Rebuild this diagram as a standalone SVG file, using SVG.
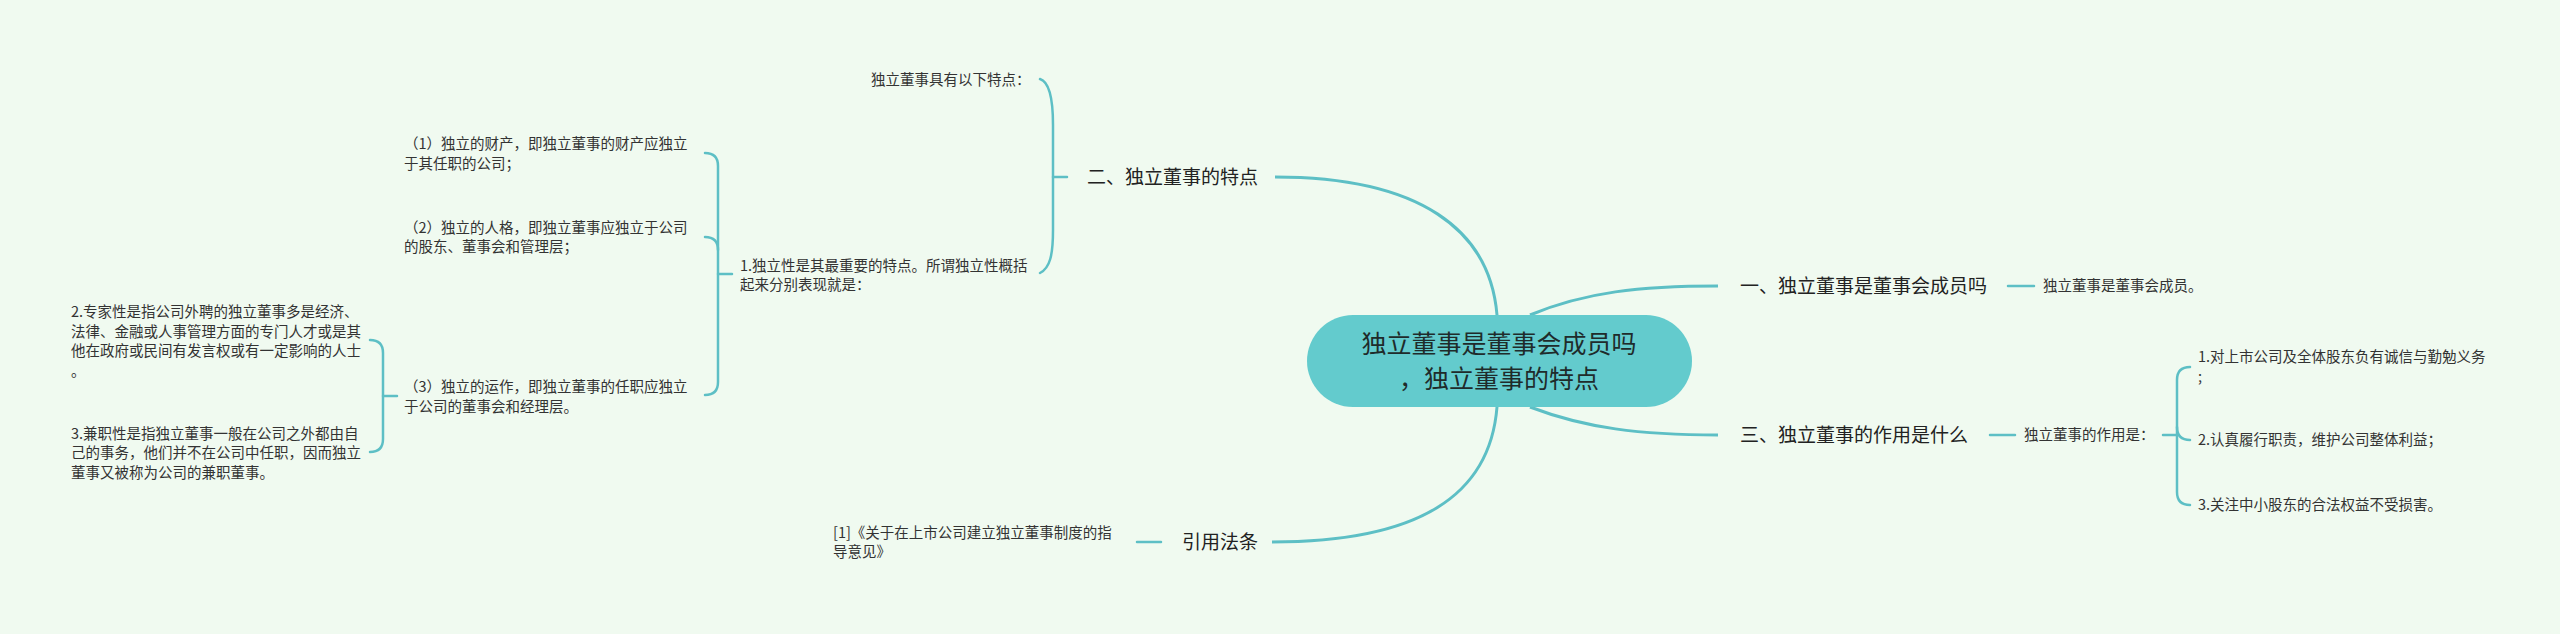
<svg xmlns="http://www.w3.org/2000/svg" width="2560" height="634" viewBox="0 0 2560 634">
<style>
.bg{fill:#f0faf0}
.ln{fill:none;stroke:#5dbfc5;stroke-width:2.5;stroke-linecap:round}
.cv{fill:none;stroke:#5dbfc5;stroke-width:3}
.t{font-family:"Noto Sans CJK SC","Noto Sans",sans-serif;font-size:14.5px;fill:#333}
.lb{font-family:"Noto Sans CJK SC","Noto Sans",sans-serif;font-size:19px;fill:#222}
.ct{font-family:"Noto Sans CJK SC","Noto Sans",sans-serif;font-size:25px;fill:#1f2b2b;text-anchor:middle}
</style>
<rect class="bg" x="0" y="0" width="2560" height="634"/>
<g id="connectors">
<path class="cv" d="M1497,315 C1490,230 1420,177 1275,177"/>
<path class="cv" d="M1530,315 C1585,292 1640,286 1718,286"/>
<path class="cv" d="M1530,407 C1585,428 1640,435 1718,435"/>
<path class="cv" d="M1497,407 C1490,495 1420,542 1272,542"/>
<path class="ln" d="M1040,79 C1050,82 1053,100 1053,125 L1053,230 C1053,255 1050,268 1040,273"/>
<path class="ln" d="M1053,177 L1067,177"/>
<path class="ln" d="M705,153 Q718,153 718,166 L718,382 Q718,395 705,395"/>
<path class="ln" d="M705,237 Q718,237 718,250"/>
<path class="ln" d="M718,274 L732,274"/>
<path class="ln" d="M370,340 Q383,340 383,353 L383,439 Q383,452 370,452"/>
<path class="ln" d="M383,396 L397,396"/>
<path class="ln" d="M1137,542 L1161,542"/>
<path class="ln" d="M2008,286 L2034,286"/>
<path class="ln" d="M1990,435 L2015,435"/>
<path class="ln" d="M2163,435 L2177,435"/>
<path class="ln" d="M2190,367 Q2177,367 2177,380 L2177,492 Q2177,505 2190,505"/>
<path class="ln" d="M2177,427 Q2177,440 2190,440"/>
</g>
<g id="center">
<rect x="1307" y="315" width="385" height="92" rx="46" ry="46" fill="#63cbcd"/>
<text class="ct" x="1499" y="352.5">独立董事是董事会成员吗</text>
<text class="ct" x="1499" y="387.5">，独立董事的特点</text>
</g>
<g id="n-er">
<text class="lb" x="1087" y="183.8">二、独立董事的特点</text>
</g>
<g id="n-er-intro">
<text class="t" x="871" y="85">独立董事具有以下特点：</text>
</g>
<g id="n-duli">
<text class="t" x="740" y="270.7"><tspan x="740">1.独立性是其最重要的特点。所谓独立性概括</tspan><tspan x="740" y="290.2">起来分别表现就是：</tspan></text>
</g>
<g id="n-p1">
<text class="t" x="404" y="149.2"><tspan x="404">（1）独立的财产，即独立董事的财产应独立</tspan><tspan x="404" y="168.7">于其任职的公司；</tspan></text>
</g>
<g id="n-p2">
<text class="t" x="404" y="232.5"><tspan x="404">（2）独立的人格，即独立董事应独立于公司</tspan><tspan x="404" y="252">的股东、董事会和管理层；</tspan></text>
</g>
<g id="n-p3">
<text class="t" x="404" y="392.2"><tspan x="404">（3）独立的运作，即独立董事的任职应独立</tspan><tspan x="404" y="411.7">于公司的董事会和经理层。</tspan></text>
</g>
<g id="n-zhuanjia">
<text class="t" x="71" y="317"><tspan x="71">2.专家性是指公司外聘的独立董事多是经济、</tspan><tspan x="71" y="336.5">法律、金融或人事管理方面的专门人才或是其</tspan><tspan x="71" y="356">他在政府或民间有发言权或有一定影响的人士</tspan><tspan x="71" y="375.5">。</tspan></text>
</g>
<g id="n-jianzhi">
<text class="t" x="71" y="438.7"><tspan x="71">3.兼职性是指独立董事一般在公司之外都由自</tspan><tspan x="71" y="458.2">己的事务，他们并不在公司中任职，因而独立</tspan><tspan x="71" y="477.7">董事又被称为公司的兼职董事。</tspan></text>
</g>
<g id="n-yinyong">
<text class="lb" x="1182" y="548.8">引用法条</text>
</g>
<g id="n-yinyong-1">
<text class="t" x="833" y="537.5"><tspan x="833">[1]《关于在上市公司建立独立董事制度的指</tspan><tspan x="833" y="557">导意见》</tspan></text>
</g>
<g id="n-yi">
<text class="lb" x="1740" y="292.8">一、独立董事是董事会成员吗</text>
</g>
<g id="n-yi-1">
<text class="t" x="2043" y="291.2">独立董事是董事会成员。</text>
</g>
<g id="n-san">
<text class="lb" x="1740" y="441.8">三、独立董事的作用是什么</text>
</g>
<g id="n-san-1">
<text class="t" x="2024" y="440.2">独立董事的作用是：</text>
</g>
<g id="n-san-a">
<text class="t" x="2198" y="362.4"><tspan x="2198">1.对上市公司及全体股东负有诚信与勤勉义务</tspan><tspan x="2198" y="381.9">;</tspan></text>
</g>
<g id="n-san-b">
<text class="t" x="2198" y="445.2">2.认真履行职责，维护公司整体利益；</text>
</g>
<g id="n-san-c">
<text class="t" x="2198" y="510.2">3.关注中小股东的合法权益不受损害。</text>
</g>
</svg>
